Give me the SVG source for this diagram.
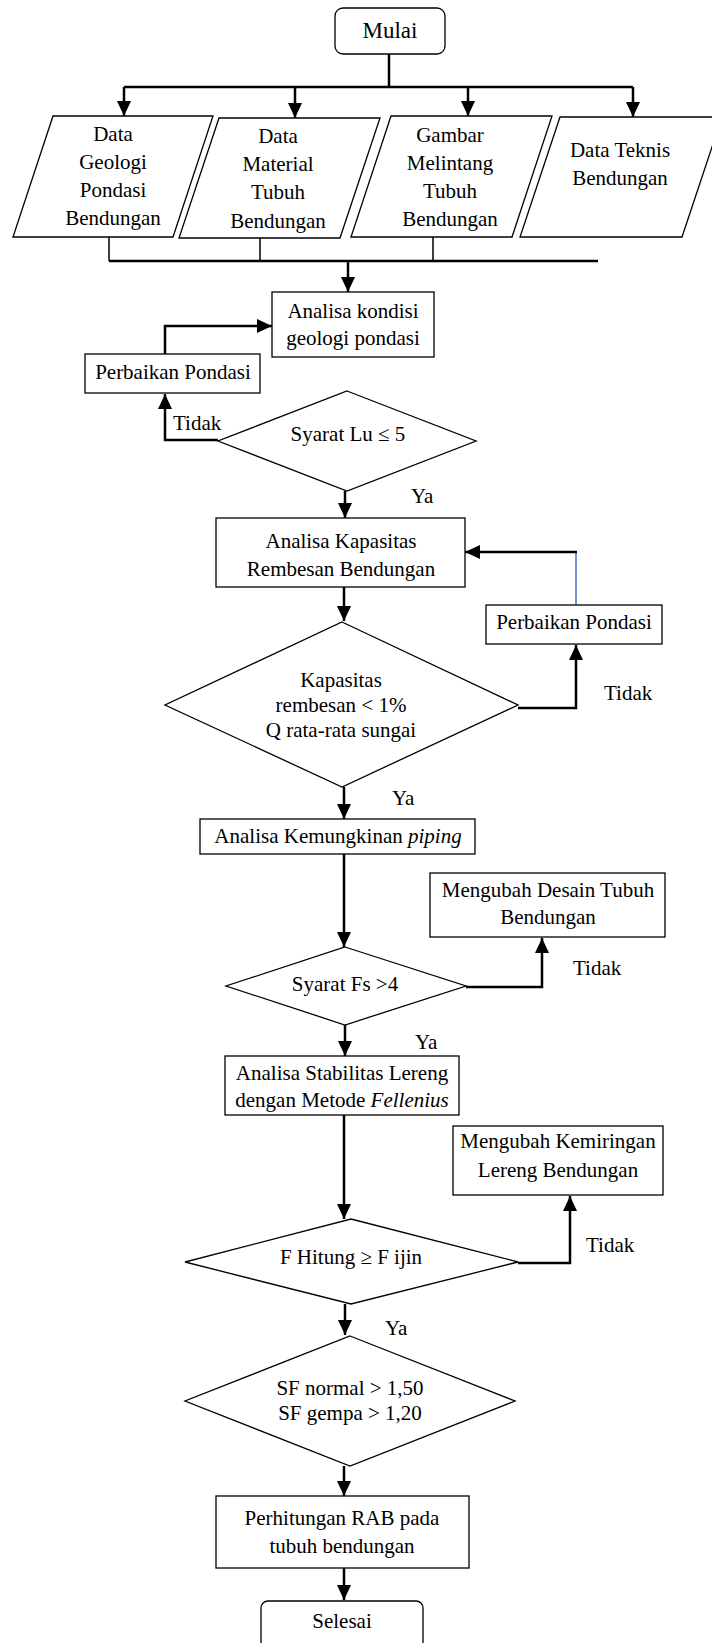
<svg xmlns="http://www.w3.org/2000/svg" width="712" height="1643" viewBox="0 0 712 1643">
<style>
.shape{fill:#fff;stroke:#000;stroke-width:1.3}
.t{font-family:"Liberation Serif","Times New Roman",serif;font-size:21px;fill:#000;text-anchor:middle}
.l{font-family:"Liberation Serif","Times New Roman",serif;font-size:21px;fill:#000}
.c{fill:none;stroke:#000;stroke-width:2.5}
.cn{fill:none;stroke:#000;stroke-width:1.5}
.a{fill:none;stroke:#000;stroke-width:2.5;marker-end:url(#ah)}
</style>
<defs>
<marker id="ah" viewBox="0 0 15 14" refX="15" refY="7" markerWidth="15" markerHeight="14" markerUnits="userSpaceOnUse" orient="auto">
<path d="M0,0 L15,7 L0,14 z" fill="#000"/>
</marker>
</defs>
<rect width="712" height="1643" fill="#fff"/>

<g id="connectors">
<path class="c" d="M389,54 V87"/>
<path class="c" d="M124,87 H633"/>
<path class="a" d="M124,87 V116"/>
<path class="a" d="M295,87 V118"/>
<path class="a" d="M468,87 V116"/>
<path class="a" d="M633,87 V117"/>
<path class="cn" d="M109,237 V261"/>
<path class="cn" d="M260,238 V261"/>
<path class="cn" d="M433,237 V261"/>
<path class="c" d="M109,261 H598"/>
<path class="a" d="M348,261 V292"/>
<path class="a" d="M165,354 V326 H272"/>
<path class="a" d="M218,440 H165 V394"/>
<path class="a" d="M345,491 V518"/>
<path class="a" d="M344,587 V621"/>
<path class="a" d="M518,708 H576 V645"/>
<path fill="none" stroke="#4472C4" stroke-width="1.5" d="M576,605 V552"/>
<path class="a" d="M577,552 H465"/>
<path class="a" d="M344,787 V819"/>
<path class="a" d="M344,854 V947"/>
<path class="a" d="M466,987 H542 V938"/>
<path class="a" d="M345,1025 V1056"/>
<path class="a" d="M344,1115 V1219"/>
<path class="a" d="M518,1263 H570 V1196"/>
<path class="a" d="M345,1304 V1335"/>
<path class="a" d="M344,1466 V1496"/>
<path class="a" d="M344,1568 V1600"/>
<text class="l" x="173" y="430">Tidak</text>
<text class="l" x="411" y="503">Ya</text>
<text class="l" x="604" y="700">Tidak</text>
<text class="l" x="392" y="805">Ya</text>
<text class="l" x="573" y="975">Tidak</text>
<text class="l" x="415" y="1049">Ya</text>
<text class="l" x="586" y="1252">Tidak</text>
<text class="l" x="385" y="1335">Ya</text>
</g>

<g id="mulai">
<rect class="shape" x="335" y="8" width="110" height="46" rx="8"/>
<text class="t" x="390" y="38" style="font-size:23px">Mulai</text>
</g>

<g id="data-geologi">
<polygon class="shape" points="53,116 213,116 173,237 13,237"/>
<text class="t" x="113" y="141">Data</text>
<text class="t" x="113" y="169">Geologi</text>
<text class="t" x="113" y="197">Pondasi</text>
<text class="t" x="113" y="225">Bendungan</text>
</g>

<g id="data-material">
<polygon class="shape" points="219,118 380,118 340,238 179,238"/>
<text class="t" x="278" y="143">Data</text>
<text class="t" x="278" y="171">Material</text>
<text class="t" x="278" y="199">Tubuh</text>
<text class="t" x="278" y="228">Bendungan</text>
</g>

<g id="gambar-melintang">
<polygon class="shape" points="391,116 552,116 512,237 351,237"/>
<text class="t" x="450" y="142">Gambar</text>
<text class="t" x="450" y="170">Melintang</text>
<text class="t" x="450" y="198">Tubuh</text>
<text class="t" x="450" y="226">Bendungan</text>
</g>

<g id="data-teknis">
<polygon class="shape" points="560,117 722,117 682,237 520,237"/>
<text class="t" x="620" y="157">Data Teknis</text>
<text class="t" x="620" y="185">Bendungan</text>
</g>

<g id="analisa-kondisi">
<rect class="shape" x="272" y="292" width="162" height="65"/>
<text class="t" x="353" y="318">Analisa kondisi</text>
<text class="t" x="353" y="345">geologi pondasi</text>
</g>

<g id="perbaikan-pondasi-1">
<rect class="shape" x="85" y="354" width="175" height="39"/>
<text class="t" x="173" y="379">Perbaikan Pondasi</text>
</g>

<g id="syarat-lu">
<polygon class="shape" points="347,391 476,441 347,491 218,441"/>
<text class="t" x="348" y="441">Syarat Lu ≤ 5</text>
</g>

<g id="analisa-kapasitas">
<rect class="shape" x="216" y="518" width="249" height="69"/>
<text class="t" x="341" y="548">Analisa Kapasitas</text>
<text class="t" x="341" y="576">Rembesan Bendungan</text>
</g>

<g id="perbaikan-pondasi-2">
<rect class="shape" x="486" y="605" width="176" height="39"/>
<text class="t" x="574" y="629">Perbaikan Pondasi</text>
</g>

<g id="kapasitas-rembesan">
<polygon class="shape" points="342,622 518,705 342,787 165,705"/>
<text class="t" x="341" y="687">Kapasitas</text>
<text class="t" x="341" y="712">rembesan &lt; 1%</text>
<text class="t" x="341" y="737">Q rata-rata sungai</text>
</g>

<g id="analisa-piping">
<rect class="shape" x="200" y="819" width="275" height="35"/>
<text class="t" x="338" y="843">Analisa Kemungkinan <tspan font-style="italic">piping</tspan></text>
</g>

<g id="mengubah-desain">
<rect class="shape" x="430" y="873" width="235" height="64"/>
<text class="t" x="548" y="897">Mengubah Desain Tubuh</text>
<text class="t" x="548" y="924">Bendungan</text>
</g>

<g id="syarat-fs">
<polygon class="shape" points="345,947 466,986 345,1025 226,986"/>
<text class="t" x="345" y="991">Syarat Fs &gt;4</text>
</g>

<g id="analisa-stabilitas">
<rect class="shape" x="225" y="1056" width="234" height="59"/>
<text class="t" x="342" y="1080">Analisa Stabilitas Lereng</text>
<text class="t" x="342" y="1107">dengan Metode <tspan font-style="italic">Fellenius</tspan></text>
</g>

<g id="mengubah-kemiringan">
<rect class="shape" x="453" y="1126" width="210" height="69"/>
<text class="t" x="558" y="1148">Mengubah Kemiringan</text>
<text class="t" x="558" y="1177">Lereng Bendungan</text>
</g>

<g id="f-hitung">
<polygon class="shape" points="351,1219 518,1262 351,1304 185,1262"/>
<text class="t" x="351" y="1264">F Hitung ≥ F ijin</text>
</g>

<g id="sf-check">
<polygon class="shape" points="350,1336 515,1401 350,1466 185,1401"/>
<text class="t" x="350" y="1395">SF normal &gt; 1,50</text>
<text class="t" x="350" y="1420">SF gempa &gt; 1,20</text>
</g>

<g id="perhitungan-rab">
<rect class="shape" x="216" y="1496" width="253" height="72"/>
<text class="t" x="342" y="1525">Perhitungan RAB pada</text>
<text class="t" x="342" y="1553">tubuh bendungan</text>
</g>

<g id="selesai">
<rect class="shape" x="261" y="1601" width="162" height="52" rx="7"/>
<text class="t" x="342" y="1628">Selesai</text>
</g>
</svg>
